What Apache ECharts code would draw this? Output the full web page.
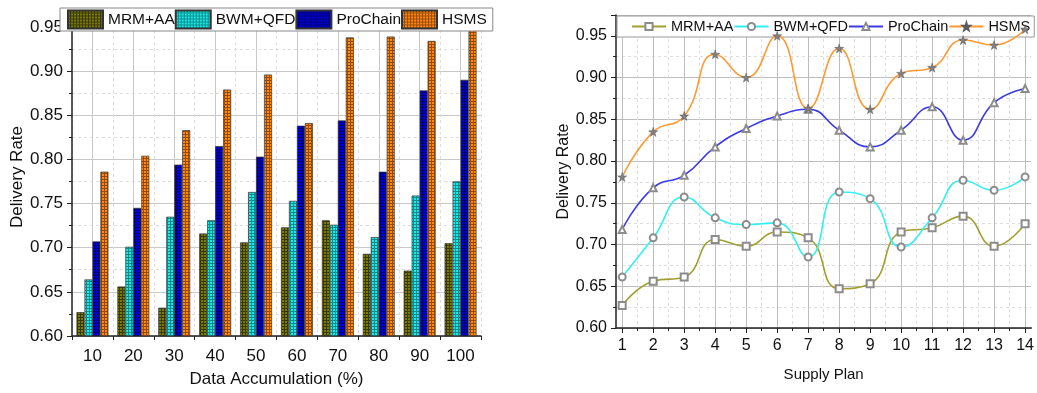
<!DOCTYPE html>
<html><head><meta charset="utf-8">
<script src="https://cdn.jsdelivr.net/npm/echarts@6/dist/echarts.min.js"></script>
<style>html,body{margin:0;padding:0;background:#fff}#c{width:1037px;height:393px}</style>
</head><body><div id="c"></div>
<script>
// ---- data ----
const seriesNames = ['MRM+AA', 'BWM+QFD', 'ProChain', 'HSMS'];
const accumCategories = ['10', '20', '30', '40', '50', '60', '70', '80', '90', '100'];
const barMRM      = [0.627, 0.656, 0.632, 0.716, 0.706, 0.723, 0.731, 0.693, 0.674, 0.705];
const barBWM      = [0.664, 0.701, 0.735, 0.731, 0.763, 0.753, 0.726, 0.712, 0.759, 0.775];
const barProChain = [0.707, 0.745, 0.794, 0.815, 0.803, 0.838, 0.844, 0.786, 0.878, 0.890];
const barHSMS     = [0.786, 0.804, 0.833, 0.879, 0.896, 0.841, 0.938, 0.939, 0.934, 0.956];

const supplyPlans  = [1, 2, 3, 4, 5, 6, 7, 8, 9, 10, 11, 12, 13, 14];
const lineMRM      = [0.627, 0.656, 0.661, 0.706, 0.698, 0.715, 0.708, 0.647, 0.653, 0.715, 0.720, 0.734, 0.698, 0.725];
const lineBWM      = [0.661, 0.708, 0.757, 0.732, 0.724, 0.726, 0.685, 0.763, 0.755, 0.697, 0.732, 0.777, 0.765, 0.781];
const lineProChain = [0.718, 0.768, 0.783, 0.817, 0.839, 0.854, 0.862, 0.837, 0.817, 0.837, 0.865, 0.825, 0.870, 0.887];
const lineHSMS     = [0.781, 0.835, 0.854, 0.928, 0.900, 0.950, 0.863, 0.935, 0.862, 0.905, 0.912, 0.945, 0.939, 0.958];

// axis helper values
const barCenterTicks = [0.5, 1.5, 2.5, 3.5, 4.5, 5.5, 6.5, 7.5, 8.5, 9.5];
const planHalfTicks = [1.5, 2.5, 3.5, 4.5, 5.5, 6.5, 7.5, 8.5, 9.5, 10.5, 11.5, 12.5, 13.5];

// ---- styles ----
function tile(base, line) {
  const c = document.createElement('canvas');
  c.width = 3; c.height = 3;
  const g = c.getContext('2d');
  g.fillStyle = base; g.fillRect(0, 0, 3, 3);
  g.fillStyle = line; g.fillRect(2, 0, 1, 3); g.fillRect(0, 2, 3, 1);
  return { image: c, repeat: 'repeat' };
}
const barFills = [
  tile('#7a7a08', '#3a3a00'),
  tile('#20e8e8', '#0a8e8e'),
  tile('#0000d8', '#00007a'),
  tile('#ff8a10', '#9a4a00')
];
const lineColors = ['#a0a030', '#33f0f0', '#3a3ae8', '#ff9a33'];
const starPath = 'path://M50,0 L61,35 L98,35 L68,57 L79,91 L50,70 L21,91 L32,57 L2,35 L39,35 Z';
const symbols = ['emptyRect', 'emptyCircle', 'emptyTriangle', starPath];

const FONT = 'Liberation Sans, Arial, sans-serif';
const axisLineStyle = { color: '#222', width: 1.5 };
const majorGrid = { show: true, lineStyle: { color: '#c8c8c8', width: 1, type: 'solid' } };
const minorGrid = { show: true, lineStyle: { color: '#dedede', width: 1, type: [3, 3] } };

const barData = [barMRM, barBWM, barProChain, barHSMS];
const lineData = [lineMRM, lineBWM, lineProChain, lineHSMS];

const chart = echarts.init(document.getElementById('c'), null, { renderer: 'canvas' });

const series = [];
seriesNames.forEach((n, i) => {
  series.push({
    name: n, type: 'bar', xAxisIndex: 0, yAxisIndex: 0,
    data: barData[i],
    barGap: '0%', barCategoryGap: '22%',
    itemStyle: { color: barFills[i], borderColor: '#333', borderWidth: 0.7 }
  });
});
seriesNames.forEach((n, i) => {
  series.push({
    name: n + ' ', type: 'line', xAxisIndex: 2, yAxisIndex: 1,
    data: supplyPlans.map((p, k) => [p, lineData[i][k]]),
    smooth: true,
    symbol: symbols[i], symbolSize: i === 3 ? 9 : 7,
    lineStyle: { color: lineColors[i], width: 1.6 },
    itemStyle: i === 3 ? { color: '#808080', borderColor: '#5a5a5a', borderWidth: 0.5 }
                       : { color: '#8c8c8c', borderWidth: 1 },
    z: 3 + i
  });
});

chart.setOption({
  animation: false,
  backgroundColor: '#fff',
  textStyle: { fontFamily: FONT },
  grid: [
    { left: 72, top: 18, right: 556, bottom: 52 },
    { left: 616, top: 15, right: 5, bottom: 65 }
  ],
  legend: [
    {
      data: seriesNames, left: 60, top: 8, icon: 'rect',
      padding: [1.5, 6, 1.5, 7], itemGap: 0, itemWidth: 35, itemHeight: 18,
      borderColor: '#888', borderWidth: 1, backgroundColor: '#fff',
      textStyle: { fontSize: 15.5, color: '#111', fontFamily: FONT }
    },
    {
      data: seriesNames.map(n => n + ' '), left: 617, top: 16, width: 600,
      padding: [3, 4, 3, 14], itemGap: 0, itemWidth: 34, itemHeight: 9,
      borderColor: '#999', borderWidth: 1, backgroundColor: '#fff',
      formatter: n => n.trim(),
      textStyle: { fontSize: 14.5, color: '#111', fontFamily: FONT }
    }
  ],
  xAxis: [
    {
      type: 'category', gridIndex: 0, data: accumCategories, boundaryGap: true,
      name: 'Data Accumulation (%)', nameLocation: 'middle', nameGap: 35,
      nameTextStyle: { fontSize: 17, color: '#111', fontFamily: FONT },
      axisLine: { lineStyle: axisLineStyle },
      axisTick: { show: true, length: 4, lineStyle: { color: '#222' } },
      axisLabel: { fontSize: 17, color: '#111', margin: 12, fontFamily: FONT },
      splitLine: minorGrid
    },
    {
      type: 'value', gridIndex: 0, min: 0, max: 10, position: 'bottom',
      axisLine: { show: false },
      axisTick: { show: false, customValues: barCenterTicks },
      axisLabel: { show: false, customValues: barCenterTicks },
      splitLine: majorGrid
    },
    {
      type: 'value', gridIndex: 1, min: 0.8, max: 14.2,
      name: 'Supply Plan', nameLocation: 'middle', nameGap: 39,
      nameTextStyle: { fontSize: 15, color: '#111', fontFamily: FONT },
      axisLine: { onZero: false, lineStyle: axisLineStyle },
      axisTick: { show: true, length: 5, customValues: supplyPlans, lineStyle: { color: '#222' } },
      axisLabel: { fontSize: 16, color: '#111', margin: 10, customValues: supplyPlans, fontFamily: FONT },
      splitLine: { show: true, lineStyle: { color: '#bdbdbd', width: 1 } }
    },
    {
      type: 'value', gridIndex: 1, min: 0.8, max: 14.2, position: 'bottom',
      axisLine: { show: false },
      axisTick: { show: true, length: 3, customValues: planHalfTicks, lineStyle: { color: '#222' } },
      axisLabel: { show: false, customValues: planHalfTicks },
      splitLine: minorGrid
    }
  ],
  yAxis: [
    {
      type: 'value', gridIndex: 0, min: 0.6, max: 0.96, interval: 0.05,
      name: 'Delivery Rate', nameLocation: 'middle', nameGap: 46,
      nameTextStyle: { fontSize: 17, color: '#111', fontFamily: FONT },
      axisLine: { show: true, lineStyle: axisLineStyle },
      axisTick: { show: true, length: 5, lineStyle: { color: '#222' } },
      minorTick: { show: true, splitNumber: 2, length: 3, lineStyle: { color: '#222' } },
      axisLabel: { fontSize: 17, color: '#111', margin: 9, showMaxLabel: false,
        formatter: v => v.toFixed(2), fontFamily: FONT },
      splitLine: majorGrid,
      minorSplitLine: minorGrid
    },
    {
      type: 'value', gridIndex: 1, min: 0.6, max: 0.975, interval: 0.05,
      name: 'Delivery Rate', nameLocation: 'middle', nameGap: 43,
      nameTextStyle: { fontSize: 16, color: '#111', fontFamily: FONT },
      axisLine: { show: true, lineStyle: axisLineStyle },
      axisTick: { show: true, length: 5, lineStyle: { color: '#222' } },
      minorTick: { show: true, splitNumber: 2, length: 3, lineStyle: { color: '#222' } },
      axisLabel: { fontSize: 16, color: '#111', margin: 9, showMaxLabel: false,
        formatter: v => v.toFixed(2), fontFamily: FONT },
      splitLine: { show: true, lineStyle: { color: '#bdbdbd', width: 1 } },
      minorSplitLine: minorGrid
    }
  ],
  series: series
});
</script>
</body></html>
